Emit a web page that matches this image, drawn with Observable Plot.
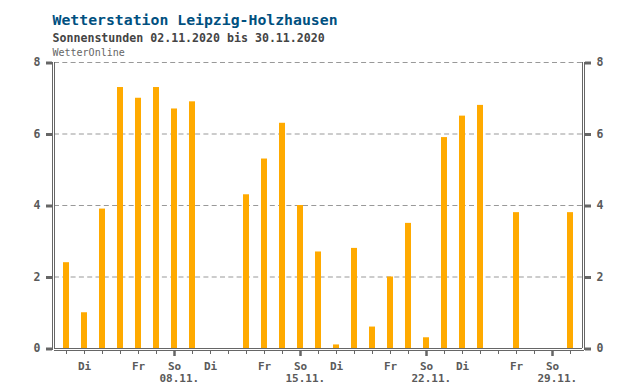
<!DOCTYPE html>
<html>
<head>
<meta charset="utf-8">
<script src="https://cdn.jsdelivr.net/npm/d3@7"></script>
<script src="https://cdn.jsdelivr.net/npm/@observablehq/plot@0.6"></script>
<style>
  html, body { margin: 0; padding: 0; background: #fff; }
</style>
</head>
<body>
<div id="chart"></div>
<script>
const title = "Wetterstation Leipzig-Holzhausen";
const subtitle = "Sonnenstunden 02.11.2020 bis 30.11.2020";
const source = "WetterOnline";

const dates = ["02.11.","03.11.","04.11.","05.11.","06.11.","07.11.","08.11.","09.11.","10.11.","11.11.",
  "12.11.","13.11.","14.11.","15.11.","16.11.","17.11.","18.11.","19.11.","20.11.","21.11.",
  "22.11.","23.11.","24.11.","25.11.","26.11.","27.11.","28.11.","29.11.","30.11."];
const weekdays = ["Mo","Di","Mi","Do","Fr","Sa","So"];
const labelledWeekdays = ["Di","Fr","So"];
const sunshine = [2.4,1.0,3.9,7.3,7.0,7.3,6.7,6.9,0,0,4.3,5.3,6.3,4.0,2.7,0.1,2.8,0.6,2.0,3.5,0.3,5.9,6.5,6.8,0,3.8,0,0,3.8];
const yTicks = [0,2,4,6,8];
const gridTicks = [2,4,6,8];

const data = dates.map((d, i) => ({i, date: d, wd: weekdays[i % 7], v: sunshine[i]}));
const sundays = data.filter(d => d.wd === "So");
const dayLabels = data.filter(d => labelledWeekdays.includes(d.wd));

const xmin = -2/3, xmax = dates.length - 1 + 2/3;
const axisColor = "#666";
const labelColor = "#5a5a5a";
const font = "DejaVu Sans Mono";

const chart = Plot.plot({
  width: 640,
  height: 390,
  marginLeft: 54,
  marginRight: 58,
  marginTop: 62,
  marginBottom: 42,
  x: {domain: [xmin, xmax], axis: null},
  y: {domain: [0, 8], axis: null},
  style: {fontFamily: font, background: "white", overflow: "visible"},
  marks: [
    // grid
    Plot.ruleY(gridTicks, {stroke: "#999", strokeDasharray: "5,3.3"}),
    // bars
    Plot.rectY(data, {x1: d => d.i - 1/6, x2: d => d.i + 1/6, y1: 0, y2: "v", fill: "#FFAA00"}),
    // frame: inner + outer lines (left, right, bottom)
    Plot.ruleX([xmin], {y1: 0, y2: 8, stroke: axisColor}),
    Plot.ruleX([xmin], {y1: 0, y2: 8, dx: -2, insetTop: 2, stroke: axisColor}),
    Plot.ruleX([xmax], {y1: 0, y2: 8, stroke: axisColor}),
    Plot.ruleX([xmax], {y1: 0, y2: 8, dx: 2, insetTop: 2, stroke: axisColor}),
    Plot.ruleY([0], {x1: xmin, x2: xmax, stroke: axisColor}),
    Plot.ruleY([0], {x1: xmax, x2: xmax, dy: 2, insetLeft: -528, insetRight: -2, stroke: axisColor}),
    // y tick stubs
    Plot.ruleY(yTicks, {x1: xmin, x2: xmin, insetLeft: -8, insetRight: 2, dy: 0.5, stroke: axisColor, strokeWidth: 3}),
    Plot.ruleY(yTicks, {x1: xmax, x2: xmax, insetLeft: 3, insetRight: -9, dy: 0.5, stroke: axisColor, strokeWidth: 3}),
    // y tick labels
    Plot.text(yTicks, {x: xmin, y: d => d, dx: -14, textAnchor: "end", lineAnchor: "middle", fill: labelColor, fontSize: 11.5, fontWeight: "bold"}),
    Plot.text(yTicks, {x: xmax, y: d => d, dx: 14, textAnchor: "start", lineAnchor: "middle", fill: labelColor, fontSize: 11.5, fontWeight: "bold"}),
    // x ticks
    Plot.ruleX(data, {x: "i", y1: 0, y2: 0, insetTop: 2, insetBottom: -6, stroke: axisColor}),
    Plot.ruleX(sundays, {x: "i", y1: 0, y2: 0, insetTop: 2, insetBottom: -8, stroke: axisColor, strokeWidth: 2.5}),
    // x labels
    Plot.text(dayLabels, {x: "i", y: 0, text: "wd", dy: 18, textAnchor: "middle", lineAnchor: "middle", fill: labelColor, fontSize: 11, fontWeight: "bold"}),
    Plot.text(sundays, {x: "i", y: 0, text: "date", dy: 29.5, dx: -15, textAnchor: "start", lineAnchor: "middle", fill: labelColor, fontSize: 11, fontWeight: "bold"}),
    // titles
    Plot.text([title], {frameAnchor: "top-left", dx: -2, dy: -42.5, textAnchor: "start", lineAnchor: "middle", fill: "#00507f", fontSize: 14.8, fontWeight: "bold"}),
    Plot.text([subtitle], {frameAnchor: "top-left", dx: -2, dy: -24.5, textAnchor: "start", lineAnchor: "middle", fill: "#444", fontSize: 11.6, fontWeight: "bold"}),
    Plot.text([source], {frameAnchor: "top-left", dx: -2, dy: -10, textAnchor: "start", lineAnchor: "middle", fill: "#666", fontSize: 10})
  ]
});
document.getElementById("chart").appendChild(chart);
</script>
</body>
</html>
